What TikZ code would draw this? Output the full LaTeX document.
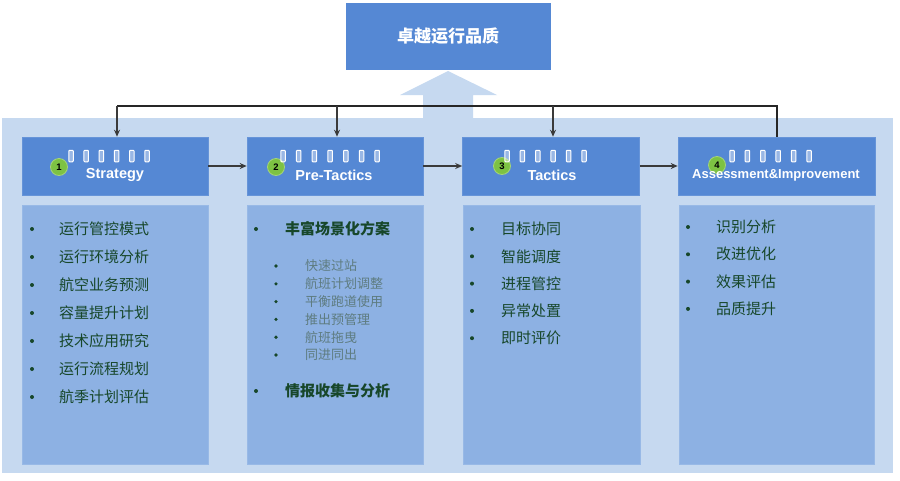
\documentclass[tikz,border=0pt]{standalone}
\usepackage{fontspec}
\setmainfont{Liberation Sans}
\newfontfamily\cjk{Noto Sans CJK SC}
\usetikzlibrary{arrows.meta}
\definecolor{bgblue}{HTML}{C6D9F0}
\definecolor{hdblue}{HTML}{5588D4}
\definecolor{ctblue}{HTML}{8DB1E3}
\definecolor{txtgreen}{HTML}{17472A}
\definecolor{subgrey}{HTML}{5E7C80}
\definecolor{badge}{HTML}{7DC243}
\definecolor{arrgrey}{HTML}{3A3A3A}
\tikzset{
  hdbox/.style={fill=hdblue, draw=hdblue!90!white, line width=0.6pt, minimum height=58pt, inner sep=0pt},
  ctbox/.style={fill=ctblue, draw=ctblue!90!white, line width=0.6pt, inner sep=0pt},
  hdlabel/.style={text=white, font=\fontsize{14.5}{14.5}\selectfont\bfseries, inner sep=0pt},
  badgec/.style={circle, fill=badge, draw=badge!70!white, line width=0.8pt, minimum size=17pt, inner sep=0pt, font=\fontsize{9.5}{9.5}\selectfont\bfseries},
  tofu/.style={draw=white, line width=1pt, fill=white, fill opacity=0.4, rounded corners=0.8pt, minimum width=4.5pt, minimum height=11.5pt, inner sep=0pt},
  item/.style={anchor=west, text=txtgreen, font=\cjk\fontsize{15}{15}\selectfont, inner sep=0pt},
  subitem/.style={anchor=west, text=subgrey, font=\cjk\fontsize{13}{13}\selectfont, inner sep=0pt},
  bul/.style={circle, fill=txtgreen, minimum size=4pt, inner sep=0pt},
  flow/.style={-{Stealth[length=7pt,width=6pt]}, draw=arrgrey, line width=1.3pt},
  fb/.style={draw=black!85, line width=1.3pt},
  fbarr/.style={-{Stealth[length=7pt,width=6pt]}, draw=arrgrey, line width=1.1pt},
}
\begin{document}
\begin{tikzpicture}[x=1pt,y=-1pt]
\useasboundingbox (0,0) rectangle (900,480);
\fill[white] (0,0) rectangle (900,480);
% background panel
\fill[bgblue] (2,118) rectangle (893,473);
% big up arrow
\fill[bgblue] (423,119) -- (423,95) -- (400,95) -- (448,71) -- (497,95) -- (473,95) -- (473,119) -- cycle;
% top box
\node[fill=hdblue, minimum width=205pt, minimum height=67pt, inner sep=0pt, text=white,
  font=\cjk\fontsize{17}{17}\selectfont\bfseries] (top) at (448,36.5) {卓越运行品质};
% header boxes
\node[hdbox, minimum width=186pt] (h1) at (115,166) {};
\node[hdbox, minimum width=176pt] (h2) at (335,166) {};
\node[hdbox, minimum width=177pt] (h3) at (551,166) {};
\node[hdbox, minimum width=197pt] (h4) at (776.5,166) {};
% badges
\node[badgec] (b1) at (59,167) {1};
\node[badgec] (b2) at (276,167) {2};
\node[badgec] (b3) at (502,166) {3};
\node[badgec] (b4) at (717,165) {4};
% header labels
\node[hdlabel] (l1) at (115,175) {Strategy};
\node[hdlabel] (l2) at (334,175) {Pre-Tactics};
\node[hdlabel] (l3) at (552,175) {Tactics};
\node[hdlabel, font=\fontsize{13}{13}\selectfont\bfseries] (l4) at (776,175) {Assessment\&Improvement};
% placeholder glyph boxes
\foreach \i in {0,...,5} \node[tofu] (ta\i) at (71+15.2*\i,156) {};
\foreach \i in {0,...,6} \node[tofu] (tb\i) at (283+15.7*\i,156) {};
\foreach \i in {0,...,5} \node[tofu] (tc\i) at (507+15.4*\i,156) {};
\foreach \i in {0,...,5} \node[tofu] (td\i) at (732+15.4*\i,156) {};
% content boxes
\node[ctbox, minimum width=186pt, minimum height=259pt] (c1) at (115,334.5) {};
\node[ctbox, minimum width=176pt, minimum height=259pt] (c2) at (335,334.5) {};
\node[ctbox, minimum width=177pt, minimum height=259pt] (c3) at (551.5,334.5) {};
\node[ctbox, minimum width=195pt, minimum height=259pt] (c4) at (777,334.5) {};
% flow arrows
\draw[flow] (h1.east) -- (h2.west);
\draw[flow] (h2.east) -- (h3.west);
\draw[flow] (h3.east) -- (h4.west);
% feedback connector
\coordinate (f1) at (117,106);
\coordinate (f2) at (337,106);
\coordinate (f3) at (553,106);
\coordinate (f4) at (777,106);
\draw[fb] (f4 |- h4.north) -- (f4) -- (f1);
\draw[fbarr] (f1) -- (f1 |- h1.north);
\draw[fbarr] (f2) -- (f2 |- h2.north);
\draw[fbarr] (f3) -- (f3 |- h3.north);
% box 1 items
\foreach \t [count=\k from 0] in {运行管控模式,运行环境分析,航空业务预测,容量提升计划,技术应用研究,运行流程规划,航季计划评估}{
  \node[bul] (p1b\k) at (32,229+28*\k) {};
  \node[item] (p1t\k) at (59,229+28*\k) {\t};
}
% box 2 items
\node[bul] (p2b0) at (256,229) {};
\node[item, font=\cjk\fontsize{15}{15}\selectfont\bfseries] (p2t0) at (285,229) {丰富场景化方案};
\foreach \t [count=\k from 0] in {快速过站,航班计划调整,平衡跑道使用,推出预管理,航班拖曳,同进同出}{
  \node[bul, minimum size=3.6pt] (p2s\k) at (276,266+17.8*\k) {};
  \node[subitem] (p2u\k) at (305,266+17.8*\k) {\t};
}
\node[bul] (p2b1) at (256,391) {};
\node[item, font=\cjk\fontsize{15}{15}\selectfont\bfseries] (p2t1) at (285,391) {情报收集与分析};
% box 3 items
\foreach \t [count=\k from 0] in {目标协同,智能调度,进程管控,异常处置,即时评价}{
  \node[bul] (p3b\k) at (472,229+27.3*\k) {};
  \node[item] (p3t\k) at (501,229+27.3*\k) {\t};
}
% box 4 items
\foreach \t [count=\k from 0] in {识别分析,改进优化,效果评估,品质提升}{
  \node[bul] (p4b\k) at (688,227+27.3*\k) {};
  \node[item] (p4t\k) at (716,227+27.3*\k) {\t};
}
\end{tikzpicture}
\end{document}
